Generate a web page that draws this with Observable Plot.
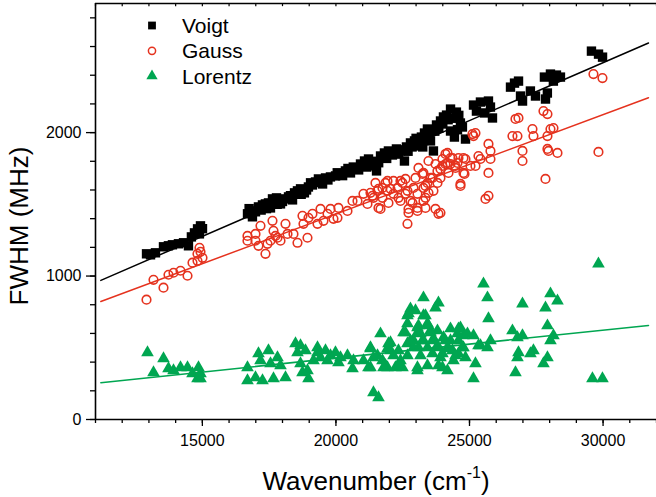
<!DOCTYPE html>
<html><head><meta charset="utf-8">
<script src="https://cdn.jsdelivr.net/npm/d3@7"></script>
<script src="https://cdn.jsdelivr.net/npm/@observablehq/plot@0.6"></script>
<style>body{margin:0;background:#fff} svg{display:block}</style>
</head><body><div id="chart"></div>
<script>
// ---- data (wavenumber cm^-1, FWHM MHz) ----
const seriesNames = ["Voigt", "Gauss", "Lorentz"];
const seriesColors = ["#000000", "#e5321e", "#00a651"];

const voigt = [
[12910,1155],[13060,1148],[13245,1162],[13545,1204],[13730,1211],[13880,1218],[14105,1225],[14295,1232],[14480,1211],[14590,1273],[14705,1301],[14820,1329],[14930,1350],[14890,1294],[15005,1330],
[16690,1434],[16800,1454],[16875,1413],[16990,1448],[17100,1482],[17250,1496],[17360,1503],[17475,1510],[17625,1538],[17700,1524],[17550,1475],[17775,1545],[17925,1503],[18075,1538],[18225,1552],[18375,1531],[18560,1594],[18675,1608],[18820,1580],[18970,1621],[19120,1635],[19235,1656],[19345,1677],[19500,1642],[19610,1684],[19795,1691],[19985,1698],[20170,1712],[20355,1733],[20545,1719],[20730,1747],[20920,1781],[21070,1802],[21220,1816],[21370,1768],[21520,1733],[21670,1837],[21815,1858],[21965,1872],[22115,1844],[22265,1886],[22415,1872],[22565,1802],[22640,1900],[22790,1928],[22940,1942],[23090,1907],[23200,1969],[23315,1997],[23425,2025],[23540,1942],[23650,1872],[23765,2053],[23915,2081],[24025,2109],[24140,2122],[24290,2011],[24435,1969],[24290,2164],[24510,2143],[24735,2039],[24850,1955],[24660,2067],
[16750,1470],[17200,1460],[17400,1470],[17800,1500],[18000,1520],[18300,1560],[18450,1580],[18700,1570],[18900,1600],[19050,1650],[19400,1660],[19700,1670],[20050,1720],[20250,1700],[20450,1750],[20650,1760],[20850,1740],[21000,1770],[21150,1760],[21450,1800],[21600,1790],[21900,1820],[22050,1850],[22350,1850],[22500,1880],[22700,1870],[22850,1900],[23000,1960],[23150,1940],[23250,1900],[23380,1950],[23500,2000],[23700,2010],[23850,2030],[24000,2060],[24200,2090],[24400,2100],[24600,2120],[24550,2020],
[25150,2192],[25260,2150],[25410,2213],[25560,2137],[25710,2220],[25785,2178],[25860,2102],[26535,2317],[26685,2345],[26835,2359],[26910,2255],[26985,2220],[27280,2290],[27470,2255],[27805,2387],[27915,2276],[27845,2234],[28030,2408],[28140,2359],[28255,2401],[28405,2387],[29565,2568],[29830,2547],[29980,2526]
];

const gauss = [
[12909,835],[13171,974],[13545,919],[13732,1009],[13920,1023],[14182,1037],[14444,1002],[14631,1093],[14818,1155],[14893,1197],[15005,1127],[14818,1106],[14930,1169],
[16689,1280],[16689,1246],[16989,1294],[16989,1246],[17101,1211],[17176,1350],[17363,1155],[17438,1225],[17550,1246],[17625,1385],[17663,1315],[17737,1280],[17812,1267],[17925,1246],[18112,1364],[18187,1294],[18411,1294],[18561,1232],[18748,1420],[18785,1364],[18935,1267],[18973,1406],[19122,1434],[19310,1364],[19422,1468],[19534,1385],[19684,1434],[19796,1468],[19908,1399],[20058,1406],[20095,1475],[20432,1454],[20620,1524],[20807,1524],[21031,1573],[21181,1503],[21293,1580],[21405,1545],[21555,1594],[21593,1475],[21742,1614],[21855,1649],[21930,1594],[21967,1510],[22154,1663],[22304,1614],[22341,1545],[22491,1649],[22603,1677],[22678,1594],[22716,1441],[22678,1364],[22790,1524],[22903,1614],[23052,1475],[23090,1754],[23240,1712],[23277,1614],[23352,1545],[23427,1649],[23464,1802],[23539,1684],[23651,1594],[23726,1468],[23801,1733],[23913,1684],[23988,1768],[24100,1851],[24175,1788],[24213,1719],[23913,1747],[23913,1441],[24175,1858],[24362,1823],[24288,1781],[24550,1788],[24475,1754],[24774,1823],[24812,1712],[24662,1642],[24662,1628],
[25149,1976],[25223,1997],[25223,1768],[25411,1816],[25710,1921],[25785,1872],[25785,1816],[25710,1719],[25598,1538],[25710,1559],[26608,1976],[26795,1976],[26721,2095],[26833,2102],[26983,1872],[26983,1802],[27357,2025],[27394,1976],[27769,2150],[27918,2129],[27918,1976],[28031,2025],[28143,2032],[27918,1886],[27956,1872],[28293,1858],[27844,1677],[29640,2408],[29977,2380],[29827,1865],
[25111,1990],[23988,1816],[24288,1823],[24587,1823],[24849,1816],[25336,1837],[23726,1781],[24100,1781],[24475,1768],[25036,1768],[23277,1719],[24774,1719],[21480,1649],[21930,1663],[22416,1663],[22978,1684],[23614,1684],[21593,1608],[22042,1608],[23352,1628],[23801,1649],[21368,1559],[21742,1545],[22154,1573],[22603,1573],[23052,1573],[23464,1580],[22416,1524],[22865,1510],[23277,1524],[21668,1468],[22716,1468],[23352,1475],[23052,1454],[23838,1434]
];

const lorentz = [
[12946,466],[13171,327],[13545,425],[13732,355],[13920,341],[14182,362],[14444,362],[14631,320],[14855,362],[14930,320],[14818,285],[14930,285],
[16689,362],[16689,271],[16989,292],[17101,459],[17176,411],[17251,271],[17475,480],[17550,390],[17663,285],[17812,431],[17925,376],[18112,292],[18486,529],[18561,466],[18673,390],[18748,327],[18860,480],[18973,285],[19160,411],[19310,501],[19422,431],[19609,480],[19684,411],[19796,445],[19983,466],[20095,397],[20170,431],[20432,445],[20657,411],[20620,355],[21031,411],[21218,362],[21293,494],[21405,431],[21405,188],[21593,153],[21668,598],[21742,411],[21855,376],[21930,362],[21967,529],[22042,480],[22229,362],[22341,480],[22416,411],[22491,362],[22603,605],[22678,668],[22716,738],[22790,772],[22978,759],[22678,529],[22903,550],[23052,640],[23165,598],[23090,501],[23052,341],[23277,849],[23352,724],[23427,668],[23277,550],[23539,619],[23651,550],[23726,779],[23838,814],[23801,501],[23913,431],[23988,362],[24175,341],[24288,550],[24362,480],[24400,411],[24550,598],[24662,640],[24774,585],[24774,501],[24849,431],[24587,459],[23801,619],[24026,571],[24175,501],
[25149,585],[25223,390],[25149,285],[25336,515],[25523,946],[25673,849],[25710,703],[25785,550],[25673,501],[26608,619],[26795,571],[26983,807],[26983,585],[26833,466],[26795,431],[26721,327],[27394,480],[27282,459],[27844,779],[28031,877],[28293,828],[27918,654],[28031,550],[28143,585],[27918,431],[27769,390],[29602,285],[29977,285],[29827,1085],
[22678,724],[23277,724],[23090,654],[23464,654],[22528,605],[23052,605],[23539,605],[24288,633],[24587,633],[24924,598],[22042,536],[22790,550],[23240,550],[23651,564],[24100,550],[24587,550],[21293,501],[21930,494],[22903,501],[23427,501],[23801,515],[24213,494],[24737,501],[25411,515],[21555,445],[22154,445],[22678,445],[23165,445],[23614,459],[23988,459],[24475,445],[21780,362],[22341,376],[23052,362],[23427,376],[23838,376],[21293,362],[18673,515],[19310,466],[18935,341]
];

// linear fits: endpoints of the drawn lines
const fitX = [11200, 31700];
const voigtFit = [970, 2625];
const gaussFit = [823, 2243];
const lorentzFit = [257, 656];

// axes
const xMajor = [15000, 20000, 25000, 30000];
const xMinor = d3.range(11000, 32001, 1000);
const yMajor = [0, 1000, 2000];
const yMinor = d3.range(0, 2901, 200);
const xDomain = [11000, 32000];
const yDomain = [0, 2900];

// ---- build ----
const fitRows = [voigtFit, gaussFit, lorentzFit].flatMap((f, i) =>
  fitX.map((x, j) => ({series: seriesNames[i], x, y: f[j]})));
const toRows = arr => arr.map(d => ({x: d[0], y: d[1]}));
const font = "'Liberation Sans', Arial, Helvetica, sans-serif";

const chart = Plot.plot({
  width: 656, height: 497,
  marginLeft: 95, marginRight: 0, marginTop: 3, marginBottom: 78,
  x: {domain: xDomain},
  y: {domain: yDomain},
  style: {fontFamily: font, background: "white", color: "black"},
  marks: [
    Plot.axisX(xMinor, {tickSize: 4, strokeWidth: 1.3, tickFormat: () => "", label: null}),
    Plot.axisX(xMajor, {tickSize: 7, strokeWidth: 1.3, tickPadding: 8, fontSize: 16, tickFormat: d => String(d), label: null}),
    Plot.axisY(yMinor, {tickSize: 5, strokeWidth: 1.3, tickFormat: () => "", label: null}),
    Plot.axisY(yMajor, {tickSize: 9, strokeWidth: 1.3, tickPadding: 5, fontSize: 16, tickFormat: d => String(d), label: null}),
    Plot.ruleX(xMinor, {y1: yDomain[1], y2: yDomain[1] - 22, stroke: "black", strokeWidth: 1.2}),
    Plot.dot(toRows(voigt), {x: "x", y: "y", symbol: "square", r: 5.3, fill: seriesColors[0]}),
    Plot.dot(toRows(gauss), {x: "x", y: "y", symbol: "circle", r: 4.3, stroke: seriesColors[1], strokeWidth: 1.6, fill: "none"}),
    Plot.dot(toRows(lorentz), {x: "x", y: "y", symbol: "triangle", r: 4.7, fill: seriesColors[2]}),
    Plot.line(fitRows, {x: "x", y: "y", z: "series", stroke: d => seriesColors[seriesNames.indexOf(d.series)], strokeWidth: 1.5}),
    Plot.ruleX([xDomain[0]], {stroke: "black", strokeWidth: 1.6}),
    Plot.ruleY([yDomain[0]], {stroke: "black", strokeWidth: 1.6}),
    Plot.ruleY([yDomain[1]], {stroke: "black", strokeWidth: 1.6})
  ]
});
document.getElementById("chart").appendChild(chart);

// ---- legend and axis titles (real text) ----
const svg = d3.select(chart);
const symbols = [d3.symbolSquare, d3.symbolCircle, d3.symbolTriangle];
const symSizes = [Math.PI * 4.4 * 4.4, Math.PI * 3.6 * 3.6, Math.PI * 4.2 * 4.2];
const lg = svg.append("g").attr("font-family", font).attr("font-size", 21).attr("text-anchor", "start");
seriesNames.forEach((name, i) => {
  const yy = 25.5 + i * 25.3;
  const p = lg.append("path")
    .attr("transform", `translate(152,${yy})`)
    .attr("d", d3.symbol(symbols[i], symSizes[i])());
  if (i === 1) p.attr("fill", "none").attr("stroke", seriesColors[i]).attr("stroke-width", 1.5);
  else p.attr("fill", seriesColors[i]);
  lg.append("text").attr("x", 182).attr("y", yy + 7.5).attr("text-anchor", "start").text(name);
});

svg.append("text")
  .attr("font-family", font).attr("font-size", 26)
  .attr("text-anchor", "middle")
  .attr("transform", "translate(28,226) rotate(-90)")
  .text("FWHM (MHz)");

const xt = svg.append("text")
  .attr("font-family", font).attr("font-size", 26)
  .attr("text-anchor", "middle")
  .attr("x", 376).attr("y", 490);
xt.append("tspan").text("Wavenumber (cm");
xt.append("tspan").attr("font-size", 16).attr("dy", -12).text("-1");
xt.append("tspan").attr("dy", 12).text(")");
</script>
</body></html>
